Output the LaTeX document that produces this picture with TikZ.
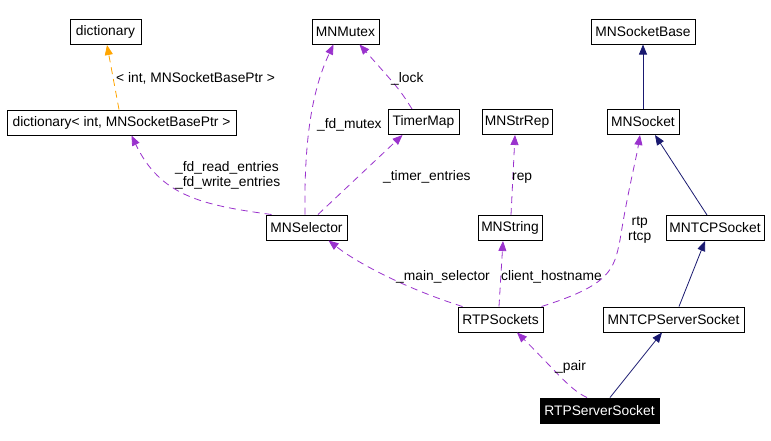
\documentclass[tikz,border=0pt]{standalone}
\usepackage{fontspec}
\setmainfont{Liberation Sans}
\usetikzlibrary{arrows.meta}
\definecolor{dep}{HTML}{9A32CD}
\definecolor{inh}{HTML}{191970}
\definecolor{tmpl}{HTML}{FFA500}
\begin{document}
\begin{tikzpicture}[x=1pt,y=-1pt,
  font=\fontsize{13.8}{15.5}\selectfont,
  cls/.style={draw=black,line width=1pt,fill=white,inner sep=0pt,minimum height=25pt},
  lbl/.style={inner sep=0pt,anchor=west,text height=9.5pt,text depth=3pt},
  usedep/.style={draw=dep,line width=0.8pt,dash pattern=on 7pt off 5pt,-{Triangle[length=10pt,width=8pt]},dep},
  inherit/.style={draw=inh,line width=0.8pt,-{Triangle[length=10pt,width=8pt]},inh},
  tmpldep/.style={draw=tmpl,line width=0.8pt,dash pattern=on 7pt off 5pt,-{Triangle[length=10pt,width=8pt]},tmpl}]
\useasboundingbox[fill=white] (0,0) rectangle (771,440);
% nodes
\node[cls,minimum width=71pt] (dict) at (105.5,32) {dictionary};
\node[cls,minimum width=229pt] (dictint) at (121.5,122.5) {dictionary< int, MNSocketBasePtr >};
\node[cls,minimum width=67pt] (mutex) at (345.5,31.5) {MNMutex};
\node[cls,minimum width=104pt] (base) at (643,31.5) {MNSocketBase};
\node[cls,minimum width=71pt] (timer) at (423.5,122) {TimerMap};
\node[cls,minimum width=70pt] (strrep) at (517,122) {MNStrRep};
\node[cls,minimum width=72pt] (socket) at (643,122) {MNSocket};
\node[cls,minimum width=81pt] (sel) at (306.5,227.5) {MNSelector};
\node[cls,minimum width=64pt] (mnstr) at (510,228) {MNString};
\node[cls,minimum width=98pt] (tcp) at (715,228) {MNTCPSocket};
\node[cls,minimum width=85pt] (rtps) at (500.5,319.5) {RTPSockets};
\node[cls,minimum width=141pt] (tcpserver) at (673.5,319.5) {MNTCPServerSocket};
\node[cls,fill=black,text=white,minimum width=119pt] (server) at (599.5,410.5) {RTPServerSocket};
% edges
\draw[tmpldep] ([xshift=-2.5pt]dictint.north) -- ([xshift=1.5pt]dict.south);
\draw[usedep] ([xshift=6pt]sel.north west) .. controls (200,205) and (160,195) .. ([xshift=10pt]dictint.south);
\draw[usedep] ([xshift=-1.5pt]sel.north) .. controls (304,140) and (312,90) .. ([xshift=-12pt]mutex.south);
\draw[usedep] ([xshift=-11.5pt]timer.north) .. controls (400,90) .. ([xshift=14pt]mutex.south);
\draw[usedep] ([xshift=11.5pt]sel.north) -- ([xshift=-21pt]timer.south);
\draw[usedep] ([xshift=1pt]mnstr.north) -- ([xshift=-2pt]strrep.south);
\draw[usedep] ([xshift=5pt]rtps.north west) .. controls (410,290) and (360,265) .. ([xshift=22pt]sel.south);
\draw[usedep] ([xshift=-1.5pt]rtps.north) -- ([xshift=-7pt]mnstr.south);
\draw[usedep] ([xshift=-2pt]rtps.north east) .. controls (610,285) and (614,270) .. (620,240) .. controls (628,190) and (636,160) .. ([xshift=-3pt]socket.south);
\draw[usedep] ([xshift=-12.5pt]server.north) .. controls (570,390) and (555,370) .. ([xshift=16.5pt]rtps.south);
\draw[inherit] (socket.north) -- (base.south);
\draw[inherit] ([xshift=-8pt]tcp.north) -- ([xshift=12pt]socket.south);
\draw[inherit] ([xshift=5.5pt]tcpserver.north) -- ([xshift=-10pt]tcp.south);
\draw[inherit] ([xshift=10.5pt]server.north) -- ([xshift=-11.5pt]tcpserver.south);
% labels
\node[lbl] (l1) at (116,79) {< int, MNSocketBasePtr >};
\node[lbl,align=left] (l2) at (175,183.5) {\_fd\_read\_entries\\[-0.5pt]\_fd\_write\_entries};
\node[lbl] (l3) at (317,125) {\_fd\_mutex};
\node[lbl] (l4) at (391,79) {\_lock};
\node[lbl] (l5) at (383,177) {\_timer\_entries};
\node[lbl] (l6) at (512,177) {rep};
\node[lbl,align=center] (l7) at (628,237.5) {rtp\\[-0.5pt]rtcp};
\node[lbl] (l8) at (396,277) {\_main\_selector};
\node[lbl] (l9) at (501,277) {client\_hostname};
\node[lbl] (l10) at (555,367) {\_pair};
\end{tikzpicture}
\end{document}
